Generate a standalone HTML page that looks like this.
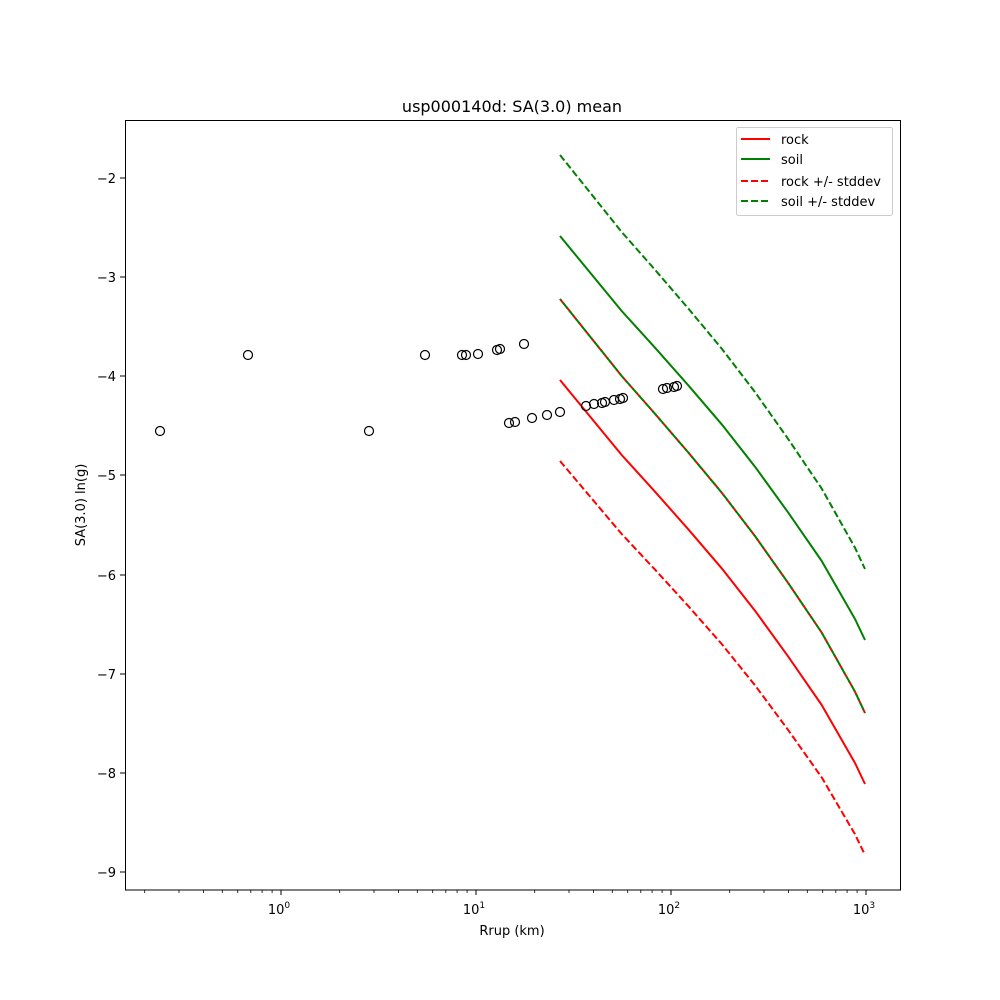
<!DOCTYPE html>
<html><head><meta charset="utf-8"><style>body{margin:0;background:#fff}svg{display:block}text{font-family:"DejaVu Sans","Liberation Sans",sans-serif;fill:#000}</style></head><body>
<svg width="1000" height="1000" viewBox="0 0 1000 1000" xmlns="http://www.w3.org/2000/svg">
<rect width="1000" height="1000" fill="#fff"/>
<text x="512" y="112" font-size="16" text-anchor="middle">usp000140d: SA(3.0) mean</text>
<g fill="none" stroke-width="2" stroke-linejoin="round">
<polyline stroke="#ff0000" points="560,380 621.7,455 655,491.7 688.3,529.3 721.7,568.3 755,610.7 788.3,656.7 821.7,705 855,763 865,784"/>
<polyline stroke="#008000" points="560,236 621.7,311 655,347.7 688.3,385.3 721.7,424.3 755,466.7 788.3,512.7 821.7,561 855,619 865,640"/>
<polyline stroke="#ff0000" stroke-dasharray="7,3" points="560,299 621.7,376 655,413.8 688.3,452.5 721.7,492.6 755,536.1 788.3,583.2 821.7,632.6 855,691.7 865,713"/>
<polyline stroke="#ff0000" stroke-dasharray="7,3" points="560,461 621.7,534 655,569.6 688.3,606.1 721.7,644 755,685.3 788.3,730.2 821.7,777.4 855,834.3 865,855"/>
<polyline stroke="#008000" stroke-dasharray="7,3" points="560,155 621.7,232 655,269.8 688.3,308.5 721.7,348.6 755,392.1 788.3,439.2 821.7,488.6 855,547.7 865,569"/>
<polyline stroke="#008000" stroke-dasharray="7,3" stroke-dashoffset="5" points="560,299 621.7,376 655,413.8 688.3,452.5 721.7,492.6 755,536.1 788.3,583.2 821.7,632.6 855,691.7 865,713"/>
</g>
<g fill="none" stroke="#000" stroke-width="1.2">
<circle cx="160" cy="431" r="4.5"/><circle cx="248" cy="355" r="4.5"/><circle cx="369" cy="431" r="4.5"/><circle cx="425" cy="355" r="4.5"/><circle cx="462" cy="355" r="4.5"/><circle cx="466" cy="355" r="4.5"/><circle cx="478" cy="354" r="4.5"/><circle cx="497" cy="350" r="4.5"/><circle cx="500" cy="349" r="4.5"/><circle cx="524" cy="344" r="4.5"/><circle cx="509" cy="423" r="4.5"/><circle cx="515" cy="422" r="4.5"/><circle cx="532" cy="418" r="4.5"/><circle cx="547" cy="415" r="4.5"/><circle cx="560" cy="412" r="4.5"/><circle cx="586" cy="406" r="4.5"/><circle cx="594" cy="404" r="4.5"/><circle cx="602" cy="403" r="4.5"/><circle cx="605" cy="402" r="4.5"/><circle cx="614" cy="400" r="4.5"/><circle cx="620" cy="399" r="4.5"/><circle cx="623" cy="398" r="4.5"/><circle cx="663" cy="389" r="4.5"/><circle cx="667" cy="388" r="4.5"/><circle cx="674" cy="387" r="4.5"/><circle cx="677" cy="386" r="4.5"/>
</g>
<rect x="125.5" y="120.5" width="775" height="769.5" fill="none" stroke="#000" stroke-width="1"/>
<g stroke="#000" stroke-width="1">
<line x1="125" y1="178" x2="120" y2="178"/><line x1="125" y1="277" x2="120" y2="277"/><line x1="125" y1="376" x2="120" y2="376"/><line x1="125" y1="475" x2="120" y2="475"/><line x1="125" y1="575" x2="120" y2="575"/><line x1="125" y1="674" x2="120" y2="674"/><line x1="125" y1="773" x2="120" y2="773"/><line x1="125" y1="872" x2="120" y2="872"/>
<line x1="281" y1="890" x2="281" y2="895"/><line x1="476" y1="890" x2="476" y2="895"/><line x1="671" y1="890" x2="671" y2="895"/><line x1="866" y1="890" x2="866" y2="895"/>
</g>
<g stroke="#000" stroke-width="0.8">
<path d="M144.7 890v3M179 890v3M203.4 890v3M222.3 890v3M237.7 890v3M250.8 890v3M262.1 890v3M272.1 890v3M339.7 890v3M374 890v3M398.4 890v3M417.3 890v3M432.7 890v3M445.8 890v3M457.1 890v3M467.1 890v3M534.7 890v3M569 890v3M593.4 890v3M612.3 890v3M627.7 890v3M640.8 890v3M652.1 890v3M662.1 890v3M729.7 890v3M764 890v3M788.4 890v3M807.3 890v3M822.7 890v3M835.8 890v3M847.1 890v3M857.1 890v3"/>
</g>
<g font-size="13" text-anchor="end">
<text x="116" y="183">−2</text><text x="116" y="282">−3</text><text x="116" y="381">−4</text><text x="116" y="480">−5</text><text x="116" y="580">−6</text><text x="116" y="679">−7</text><text x="116" y="778">−8</text><text x="116" y="877">−9</text>
</g>
<g font-size="13" text-anchor="middle">
<text x="279" y="914">10<tspan font-size="9" dy="-6">0</tspan></text>
<text x="474" y="914">10<tspan font-size="9" dy="-6">1</tspan></text>
<text x="669" y="914">10<tspan font-size="9" dy="-6">2</tspan></text>
<text x="864" y="914">10<tspan font-size="9" dy="-6">3</tspan></text>
<text x="512" y="935">Rrup (km)</text>
<text transform="translate(85,505) rotate(-90)">SA(3.0) ln(g)</text>
</g>
<rect x="736.5" y="127.5" width="156" height="88" rx="2" fill="#fff" fill-opacity="0.8" stroke="#ccc"/>
<g stroke-width="2">
<line x1="741" y1="139" x2="770" y2="139" stroke="#ff0000"/>
<line x1="741" y1="159" x2="770" y2="159" stroke="#008000"/>
<line x1="741" y1="181" x2="770" y2="181" stroke="#ff0000" stroke-dasharray="7,3"/>
<line x1="741" y1="201" x2="770" y2="201" stroke="#008000" stroke-dasharray="7,3"/>
</g>
<g font-size="13">
<text x="781" y="144">rock</text><text x="781" y="164">soil</text><text x="781" y="186">rock +/- stddev</text><text x="781" y="206">soil +/- stddev</text>
</g>
</svg>
</body></html>
